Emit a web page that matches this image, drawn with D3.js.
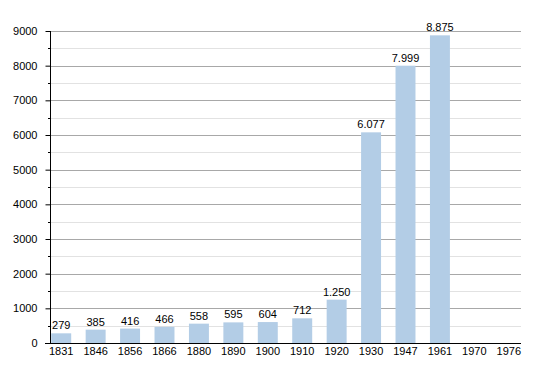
<!DOCTYPE html>
<html><head><meta charset="utf-8">
<script src="https://cdn.jsdelivr.net/npm/d3@7"></script>
<style>body{margin:0;background:#fff}svg{display:block}text{font-family:"Liberation Sans",Arial,sans-serif;font-size:11px;fill:#000}</style>
</head><body><svg id="c" width="550" height="373"></svg>
<script>
const years = ["1831","1846","1856","1866","1880","1890","1900","1910","1920","1930","1947","1961","1970","1976"];
const population = [279,385,416,466,558,595,604,712,1250,6077,7999,8875,null,null];
const valueLabels = ["279","385","416","466","558","595","604","712","1.250","6.077","7.999","8.875","",""];
const yTicks = [0,1000,2000,3000,4000,5000,6000,7000,8000,9000];

const svg = d3.select("#c");
const x = d3.scaleBand().domain(years).range([44, 526]).paddingInner(0.42).paddingOuter(0.21);
const y = d3.scaleLinear().domain([0, 9000]).range([343, 31]);
const x0 = 50, x1 = 521;

// minor gridlines
const minor = d3.range(500, 9000, 1000);
svg.append("g").selectAll("line").data(minor).join("line")
  .attr("x1", x0).attr("x2", x1).attr("y1", d => Math.round(y(d)) + 0.5).attr("y2", d => Math.round(y(d)) + 0.5)
  .attr("stroke", "#e2e2e2").attr("stroke-width", 1);
// major gridlines
svg.append("g").selectAll("line").data(yTicks.filter(d => d > 0)).join("line")
  .attr("x1", x0).attr("x2", x1).attr("y1", d => Math.round(y(d)) + 0.5).attr("y2", d => Math.round(y(d)) + 0.5)
  .attr("stroke", "#a8a8a8").attr("stroke-width", 1);

// bars
const data = years.map((yr, i) => ({yr, v: population[i], lab: valueLabels[i]})).filter(d => d.v != null);
svg.append("g").selectAll("rect").data(data).join("rect")
  .attr("x", d => x(d.yr)).attr("width", x.bandwidth())
  .attr("y", d => y(d.v)).attr("height", d => y(0) - y(d.v))
  .attr("fill", "#b3cde6");

// value labels
svg.append("g").selectAll("text").data(data).join("text")
  .attr("x", d => x(d.yr) + x.bandwidth() / 2).attr("y", d => y(d.v) - 4)
  .attr("text-anchor", "middle").text(d => d.lab);

// y axis
const yAxis = d3.axisLeft(y).tickValues(yTicks).tickSize(5).tickFormat(d3.format("d"));
const ga = svg.append("g").attr("transform", `translate(${x0 + 0.5},0)`).call(yAxis);
ga.select(".domain").remove();
ga.selectAll(".tick line").attr("stroke", "#000");
ga.selectAll(".tick text").attr("x", -13).style("font-family", '"Liberation Sans",Arial,sans-serif').style("font-size", "11px");
ga.append("line").attr("x1", 0).attr("x2", 0).attr("y1", 31).attr("y2", 343).attr("stroke", "#000");
// minor ticks
svg.append("g").selectAll("line").data(minor).join("line")
  .attr("x1", x0 - 2).attr("x2", x0).attr("y1", d => Math.round(y(d)) + 0.5).attr("y2", d => Math.round(y(d)) + 0.5)
  .attr("stroke", "#000");

// x axis baseline
svg.append("line").attr("x1", 45).attr("x2", x1).attr("y1", 343.5).attr("y2", 343.5).attr("stroke", "#000");
// x labels
svg.append("g").selectAll("text").data(years).join("text")
  .attr("x", d => x(d) + x.bandwidth() / 2).attr("y", 355)
  .attr("text-anchor", "middle").text(d => d);
</script></body></html>
